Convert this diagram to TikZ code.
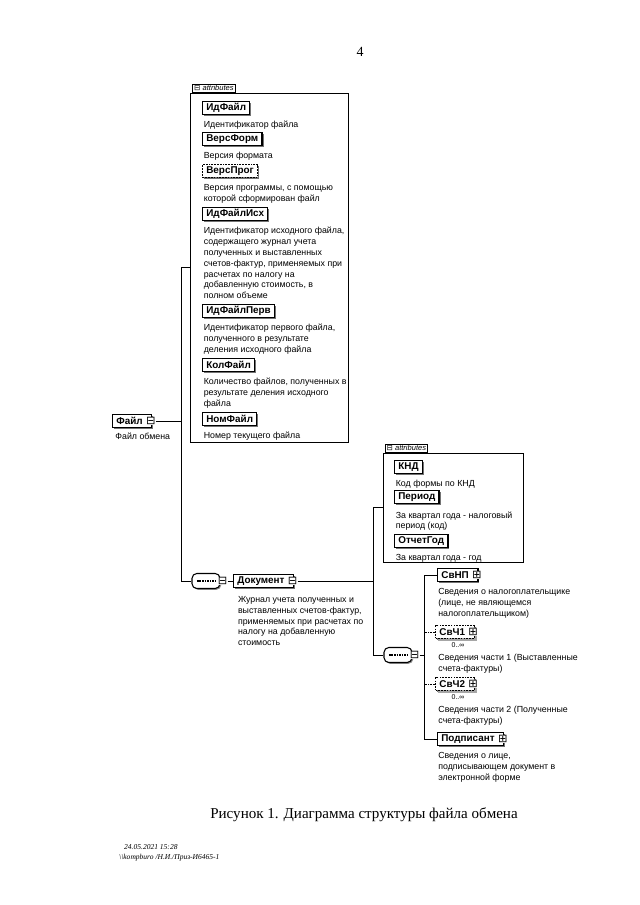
\documentclass[tikz,border=0pt]{standalone}
\usepackage{fontspec}
\setmainfont{Liberation Serif}
\setsansfont{Liberation Sans}
\newfontfamily\symfont{DejaVu Sans}
\usetikzlibrary{positioning,fit,shadows}

\tikzset{
  elem/.style={draw, line width=1.1pt, fill=white, anchor=west,
    font=\sffamily\bfseries\fontsize{9.2}{10}\selectfont,
    inner xsep=3.5pt, inner ysep=0pt, minimum height=11.5pt,
    drop shadow={shadow xshift=1.4pt, shadow yshift=-1.4pt, fill=black!55, opacity=1}},
  optelem/.style={elem, dash pattern=on 1.6pt off 1pt},
  repelem/.style={optelem,
    drop shadow={shadow xshift=2.6pt, shadow yshift=-2.6pt, fill=black!35, opacity=1}},
  descr/.style={font=\sffamily\fontsize{8.2}{10}\selectfont, align=left,
    inner sep=0pt, anchor=north west},
  icon/.style={font=\symfont\fontsize{10.5}{10.5}\selectfont, inner sep=0pt, fill=white},
  attrbox/.style={draw, line width=0.8pt, inner sep=0pt, fill=white,
    drop shadow={shadow xshift=1pt, shadow yshift=-1pt, fill=black!45, opacity=1}},
  tab/.style={draw, line width=0.7pt, fill=white, anchor=south west,
    font=\sffamily\itshape\fontsize{7}{7}\selectfont, inner xsep=1.5pt, inner ysep=1.2pt},
  seqbox/.style={draw, line width=1pt, fill=white, rounded corners=4.5pt,
    minimum width=26pt, minimum height=14pt,
    drop shadow={shadow xshift=1.2pt, shadow yshift=-1.2pt, fill=black!45, opacity=1}},
  occurs/.style={font=\sffamily\fontsize{6.5}{7}\selectfont, inner sep=0pt},
  link/.style={line width=0.8pt},
}

\begin{document}
\begin{tikzpicture}[x=0.93pt,y=-0.93pt]
\useasboundingbox (0,0) rectangle (640,905);

% page number
\node[font=\fontsize{13}{15}\selectfont] (pagenum) at (360,52) {4};

% attributes of Файл
\node[attrbox, fit={(190,93) (348,442)}] (attrsA) {};
\node[tab] (tabA) at ([xshift=2.5pt]attrsA.north west) {{\upshape\symfont ⊟} attributes};

\node[elem] (idfile) at (202,108) {ИдФайл};
\node[descr, below=6pt of idfile.south west, anchor=north west, xshift=1.5pt] (didfile)
  {Идентификатор файла};
\node[elem] (versform) at (202,139) {ВерсФорм};
\node[descr, below=6pt of versform.south west, anchor=north west, xshift=1.5pt] (dversform)
  {Версия формата};
\node[optelem] (versprog) at (202,171) {ВерсПрог};
\node[descr, below=6pt of versprog.south west, anchor=north west, xshift=1.5pt] (dversprog)
  {Версия программы, с помощью\\которой сформирован файл};
\node[elem] (idfileisx) at (202,214) {ИдФайлИсх};
\node[descr, below=6pt of idfileisx.south west, anchor=north west, xshift=1.5pt] (didfileisx)
  {Идентификатор исходного файла,\\содержащего журнал учета\\полученных и выставленных\\счетов-фактур, применяемых при\\расчетах по налогу на\\добавленную стоимость, в\\полном объеме};
\node[elem] (idfileperv) at (202,311) {ИдФайлПерв};
\node[descr, below=6pt of idfileperv.south west, anchor=north west, xshift=1.5pt] (didfileperv)
  {Идентификатор первого файла,\\полученного в результате\\деления исходного файла};
\node[elem] (kolfile) at (202,365) {КолФайл};
\node[descr, below=6pt of kolfile.south west, anchor=north west, xshift=1.5pt] (dkolfile)
  {Количество файлов, полученных в\\результате деления исходного\\файла};
\node[elem] (nomfile) at (202,419) {НомФайл};
\node[descr, below=6pt of nomfile.south west, anchor=north west, xshift=1.5pt] (dnomfile)
  {Номер текущего файла};

% root element
\node[elem] (file) at (112,421) {Файл\kern5pt};
\node[icon] (fileicon) at ([xshift=-1.5pt]file.east) {⊟};
\node[descr, below=5pt of file.south west, anchor=north west, xshift=3pt] (dfile)
  {Файл обмена};

% sequence and Документ
\node[seqbox] (seqA) at (206,581) {};
\draw[line width=1pt, dash pattern=on 1.6pt off 0.8pt] ([xshift=5pt]seqA.west) -- ([xshift=-5pt]seqA.east);
\node[icon] (seqAicon) at ([xshift=2pt]seqA.east) {⊟};
\node[elem] (doc) at (233,581) {Документ\kern5pt};
\node[icon] (docicon) at ([xshift=-1.5pt]doc.east) {⊟};
\node[descr, below=8pt of doc.south west, anchor=north west, xshift=4.5pt] (ddoc)
  {Журнал учета полученных и\\выставленных счетов-фактур,\\применяемых при расчетах по\\налогу на добавленную\\стоимость};

\coordinate (trunkAtop) at (181,267.5);
\coordinate (trunkAbot) at (181,581);
\draw[link] (fileicon.east) -- (fileicon.east -| trunkAtop);
\draw[link] (attrsA.west) -- (trunkAtop) -- (trunkAbot) -- (seqA.west);
\draw[link] (seqAicon.east) -- (doc.west);

% attributes of Документ
\node[attrbox, fit={(383,453) (523,562)}] (attrsB) {};
\node[tab] (tabB) at ([xshift=2pt]attrsB.north west) {{\upshape\symfont ⊟} attributes};

\node[elem] (knd) at (394,467) {КНД};
\node[descr, below=6pt of knd.south west, anchor=north west, xshift=1.5pt] (dknd)
  {Код формы по КНД};
\node[elem] (period) at (394,497) {Период};
\node[descr, below=7pt of period.south west, anchor=north west, xshift=1.5pt] (dperiod)
  {За квартал года - налоговый\\период (код)};
\node[elem] (otchgod) at (394,541) {ОтчетГод};
\node[descr, below=5.5pt of otchgod.south west, anchor=north west, xshift=1.5pt] (dotchgod)
  {За квартал года - год};

% sequence of Документ
\node[seqbox] (seqB) at (398,655) {};
\draw[line width=1pt, dash pattern=on 1.6pt off 0.8pt] ([xshift=5pt]seqB.west) -- ([xshift=-5pt]seqB.east);
\node[icon] (seqBicon) at ([xshift=2pt]seqB.east) {⊟};

\node[elem] (svnp) at (437,575) {СвНП\kern5pt};
\node[icon] (svnpicon) at ([xshift=-1.5pt]svnp.east) {⊞};
\node[descr, below=6pt of svnp.south west, anchor=north west, xshift=1pt] (dsvnp)
  {Сведения о налогоплательщике\\(лице, не являющемся\\налогоплательщиком)};

\node[repelem] (svch1) at (435,632) {СвЧ1\kern5pt};
\node[icon] (svch1icon) at ([xshift=-1.5pt]svch1.east) {⊞};
\node[occurs] (occsvch1) at (458,645.5) {0..∞};
\node[descr, below=14pt of svch1.south west, anchor=north west, xshift=3pt] (dsvch1)
  {Сведения части 1 (Выставленные\\счета-фактуры)};

\node[repelem] (svch2) at (435,684) {СвЧ2\kern5pt};
\node[icon] (svch2icon) at ([xshift=-1.5pt]svch2.east) {⊞};
\node[occurs] (occsvch2) at (458,697.5) {0..∞};
\node[descr, below=14pt of svch2.south west, anchor=north west, xshift=3pt] (dsvch2)
  {Сведения части 2 (Полученные\\счета-фактуры)};

\node[elem] (podp) at (437,739) {Подписант\kern5pt};
\node[icon] (podpicon) at ([xshift=-1.5pt]podp.east) {⊞};
\node[descr, below=6pt of podp.south west, anchor=north west, xshift=1pt] (dpodp)
  {Сведения о лице,\\подписывающем документ в\\электронной форме};

\coordinate (trunkBtop) at (373,507.5);
\coordinate (trunkBbot) at (373,655);
\draw[link] (docicon.east) -- (docicon.east -| trunkBtop);
\draw[link] (attrsB.west) -- (trunkBtop) -- (trunkBbot) -- (seqB.west);

\coordinate (trunkCtop) at (424,575);
\coordinate (trunkCbot) at (424,739);
\draw[link] (seqBicon.east) -- (seqBicon.east -| trunkCtop);
\draw[link] (svnp.west) -- (trunkCtop) -- (trunkCbot) -- (podp.west);
\draw[link, dash pattern=on 1.6pt off 1pt] (svch1.west) -- (svch1.west -| trunkCtop);
\draw[link, dash pattern=on 1.6pt off 1pt] (svch2.west) -- (svch2.west -| trunkCtop);

% caption and footer
\node[font=\fontsize{14}{16}\selectfont] (caption) at (364,815)
  {Рисунок 1. Диаграмма структуры файла обмена};
\node[font=\itshape\fontsize{7}{8}\selectfont, anchor=west, inner sep=0pt] (stamp) at (124,847)
  {24.05.2021 15:28};
\node[font=\itshape\fontsize{7}{8}\selectfont, anchor=west, inner sep=0pt] (stamppath) at (119,858)
  {\textbackslash\textbackslash kompburo /Н.И./Приз-И6465-1};
\end{tikzpicture}
\end{document}
